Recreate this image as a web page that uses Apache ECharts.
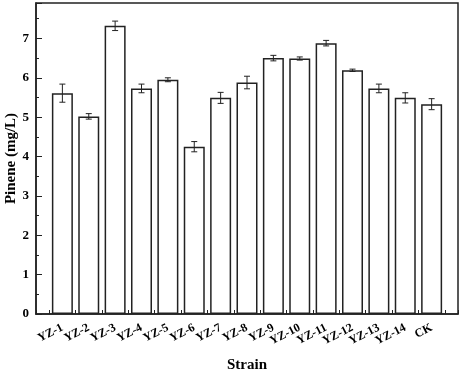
<!DOCTYPE html>
<html>
<head>
<meta charset="utf-8">
<script src="https://cdn.jsdelivr.net/npm/echarts@6/dist/echarts.min.js"></script>
<style>
    html, body { margin: 0; padding: 0; background: #fff; }
    #chart { width: 461px; height: 372px; }
</style>
</head>
<body>
<div id="chart"></div>
<script>
var strains = ['YZ-1','YZ-2','YZ-3','YZ-4','YZ-5','YZ-6','YZ-7','YZ-8','YZ-9','YZ-10','YZ-11','YZ-12','YZ-13','YZ-14','CK'];
var pinene = [5.61, 5.02, 7.32, 5.73, 5.95, 4.25, 5.49, 5.88, 6.50, 6.49, 6.88, 6.19, 5.73, 5.49, 5.33];
var errors = [0.23, 0.07, 0.12, 0.11, 0.05, 0.13, 0.14, 0.16, 0.07, 0.04, 0.07, 0.03, 0.11, 0.13, 0.14];

var font = 'Liberation Serif';
var ink = '#222';

var barData = [];
var errData = [];
for (var i = 0; i < strains.length; i++) {
    barData.push([i + 1, pinene[i]]);
    errData.push([i + 1, pinene[i] - errors[i], pinene[i] + errors[i]]);
}

// vertical line with small caps at both ends
function errorBar(params, api) {
    var lo = api.coord([api.value(0), api.value(1)]);
    var hi = api.coord([api.value(0), api.value(2)]);
    var cap = 3;
    var st = { stroke: ink, lineWidth: 1 };
    return {
        type: 'group',
        children: [
            { type: 'line', shape: { x1: hi[0], y1: hi[1], x2: lo[0], y2: lo[1] }, style: st },
            { type: 'line', shape: { x1: hi[0] - cap, y1: hi[1], x2: hi[0] + cap, y2: hi[1] }, style: st },
            { type: 'line', shape: { x1: lo[0] - cap, y1: lo[1], x2: lo[0] + cap, y2: lo[1] }, style: st }
        ]
    };
}

var myChart = echarts.init(document.getElementById('chart'));
var option = {
    animation: false,
    grid: {
        left: 36,
        right: 3,
        top: 3,
        bottom: 58,
        containLabel: false,
        outerBoundsMode: 'none',
        show: true,
        borderColor: ink,
        borderWidth: 1.5,
        backgroundColor: 'transparent'
    },
    xAxis: [{
        type: 'value',
        min: 0,
        max: 16,
        interval: 1,
        name: 'Strain',
        nameLocation: 'middle',
        nameGap: 44,
        nameTextStyle: { fontFamily: font, fontWeight: 'bold', fontSize: 15, color: '#000' },
        axisLine: { lineStyle: { color: ink, width: 1.5 } },
        axisTick: { inside: true, length: 4, lineStyle: { color: ink } },
        minorTick: { show: true, splitNumber: 2, length: 4, lineStyle: { color: ink } },
        splitLine: { show: false },
        axisLabel: {
            rotate: 27,
            margin: 13,
            fontFamily: font,
            fontWeight: 'bold',
            fontSize: 12,
            color: '#000',
            formatter: function (v) {
                return (v >= 1 && v <= strains.length) ? strains[v - 1] : '';
            }
        }
    }],
    yAxis: [{
        type: 'value',
        min: 0,
        max: 7.9,
        interval: 1,
        name: 'Pinene (mg/L)',
        nameLocation: 'middle',
        nameGap: 17,
        nameMoveOverlap: false,
        nameTextStyle: { fontFamily: font, fontWeight: 'bold', fontSize: 15, color: '#000' },
        axisLine: { lineStyle: { color: ink, width: 1.5 } },
        axisTick: { inside: true, length: 6, lineStyle: { color: ink } },
        splitLine: { show: false },
        axisLabel: {
            margin: 7,
            fontFamily: font,
            fontWeight: 'bold',
            fontSize: 13,
            color: '#000',
            formatter: function (v) { return Number.isInteger(v) ? String(v) : ''; }
        }
    }, {
        type: 'value',
        position: 'left',
        min: 0,
        max: 7.9,
        interval: 0.5,
        axisLine: { show: false },
        axisTick: { inside: true, length: 3, lineStyle: { color: ink } },
        axisLabel: { show: false },
        splitLine: { show: false }
    }],
    series: [{
        type: 'bar',
        data: barData,
        barWidth: 21,
        itemStyle: { color: '#fff', borderColor: ink, borderWidth: 1.5 }
    }, {
        type: 'custom',
        data: errData,
        renderItem: errorBar,
        z: 5
    }]
};
myChart.setOption(option);
</script>
</body>
</html>
